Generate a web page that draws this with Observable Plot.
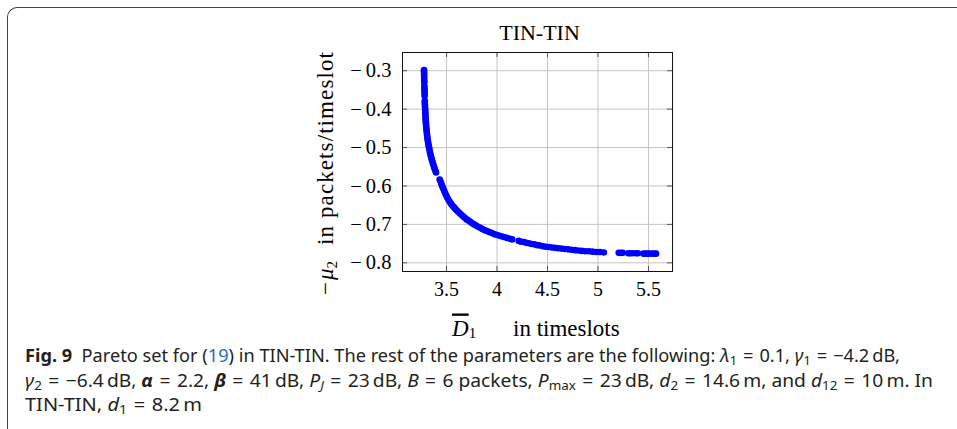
<!DOCTYPE html>
<html><head><meta charset="utf-8">
<script src="https://cdn.jsdelivr.net/npm/d3@7"></script>
<script src="https://cdn.jsdelivr.net/npm/@observablehq/plot@0.6"></script>
<style>
html,body{margin:0;padding:0;background:#fff;width:957px;height:429px;overflow:hidden;}
#box{position:absolute;left:7px;top:7px;width:1000px;height:500px;border-top:1.5px solid #444;border-left:1.5px solid #444;border-top-left-radius:10px;}
#chart{position:absolute;left:0;top:0;}
#caption{position:absolute;left:25px;top:343px;font-family:"Noto Sans",sans-serif;font-size:17.5px;line-height:24.5px;color:#231f20;}
#caption .ln{white-space:nowrap;width:max-content;transform-origin:0 50%;}
#caption sub{font-size:0.7em;vertical-align:-0.25em;line-height:0;}
#caption .ref{color:#2a6ebb;}
</style></head>
<body>
<div id="box"></div>
<div id="chart"></div>
<div id="caption">
<div class="ln"><b>Fig. 9</b>&nbsp; Pareto set for (<span class="ref">19</span>) in TIN-TIN. The rest of the parameters are the following: <i>λ</i><sub>1</sub>&#8196;=&#8196;0.1, <i>γ</i><sub>1</sub>&#8196;=&#8196;−4.2&#8201;dB,</div>
<div class="ln"><i>γ</i><sub>2</sub>&#8196;=&#8196;−6.4&#8201;dB, <b><i>α</i></b>&#8196;=&#8196;2.2, <b><i>β</i></b>&#8196;=&#8196;41&#8201;dB, <i>P</i><sub><i>J</i></sub>&#8196;=&#8196;23&#8201;dB, <i>B</i>&#8196;=&#8196;6 packets, <i>P</i><sub>max</sub>&#8196;=&#8196;23&#8201;dB, <i>d</i><sub>2</sub>&#8196;=&#8196;14.6&#8201;m, and <i>d</i><sub>12</sub>&#8196;=&#8196;10&#8201;m. In</div>
<div class="ln">TIN-TIN, <i>d</i><sub>1</sub>&#8196;=&#8196;8.2&#8201;m</div>
</div>
<script>
// Average delay of user 1 (timeslots)
const delay = [
3.277,3.277,3.278,3.278,3.278,3.279,3.279,3.280,3.281,3.281,3.282,3.282,3.283,3.283,
3.285,3.285,3.286,3.287,3.288,3.289,3.290,3.291,3.292,3.293,3.294,3.295,3.297,3.298,
3.300,3.302,3.304,3.306,3.308,3.310,3.313,3.316,3.319,3.322,3.326,3.330,3.334,3.338,
3.343,3.348,3.353,3.358,3.364,3.370,3.376,3.382,3.389,3.396,
3.432,3.440,3.448,3.457,3.466,3.476,3.486,3.496,3.507,3.519,3.531,3.544,3.557,3.571,
3.585,3.600,3.615,3.631,3.647,3.664,3.681,3.699,3.717,3.735,3.754,3.773,3.793,3.813,
3.834,3.855,3.877,3.899,3.922,3.945,3.969,3.993,4.018,4.043,4.069,4.095,4.122,4.150,
4.215,4.240,4.265,4.290,4.316,4.343,4.370,4.398,4.426,4.455,4.484,4.514,4.544,4.575,
4.606,4.638,4.670,4.703,4.736,4.770,4.804,4.839,4.874,4.910,4.946,4.983,5.020,5.058,
5.205,5.225,5.245,5.300,5.320,5.340,5.375,5.395,5.450,5.470,5.490,5.510,5.535,5.560,5.575
];
// Negative throughput of user 2 (packets/timeslot)
const negMu2 = [
-0.298,-0.302,-0.306,-0.311,-0.316,-0.321,-0.326,-0.331,-0.340,-0.345,-0.350,-0.355,-0.360,-0.366,
-0.378,-0.383,-0.388,-0.394,-0.399,-0.404,-0.409,-0.414,-0.419,-0.424,-0.429,-0.434,-0.439,-0.444,
-0.449,-0.454,-0.459,-0.464,-0.469,-0.474,-0.479,-0.484,-0.489,-0.494,-0.499,-0.504,-0.510,-0.515,
-0.520,-0.525,-0.530,-0.535,-0.540,-0.545,-0.550,-0.555,-0.560,-0.565,
-0.583,-0.588,-0.594,-0.600,-0.606,-0.612,-0.618,-0.624,-0.630,-0.636,-0.641,-0.646,-0.651,-0.655,
-0.659,-0.663,-0.667,-0.671,-0.675,-0.679,-0.683,-0.687,-0.690,-0.693,-0.697,-0.700,-0.703,-0.706,
-0.709,-0.712,-0.715,-0.717,-0.720,-0.722,-0.725,-0.727,-0.729,-0.731,-0.733,-0.735,-0.737,-0.739,
-0.743,-0.745,-0.746,-0.748,-0.749,-0.751,-0.752,-0.754,-0.755,-0.757,-0.758,-0.759,-0.760,-0.761,
-0.762,-0.763,-0.764,-0.765,-0.766,-0.767,-0.768,-0.769,-0.770,-0.770,-0.771,-0.772,-0.772,-0.773,
-0.774,-0.774,-0.774,-0.775,-0.775,-0.775,-0.775,-0.775,-0.776,-0.776,-0.776,-0.776,-0.776,-0.776,-0.776
];
const xTicks = [3.5, 4, 4.5, 5, 5.5];
const yTicks = [-0.3, -0.4, -0.5, -0.6, -0.7, -0.8];
const title = "TIN-TIN";

const points = delay.map((d, i) => ({x: d, y: negMu2[i]}));

const W = 957, H = 345;
const mL = 402, mR = 285, mT = 52, mB = 74;
const fw = W - mL - mR, fh = H - mT - mB;
const tick = 5;

const chart = Plot.plot({
  width: W, height: H,
  marginLeft: mL, marginRight: mR, marginTop: mT, marginBottom: mB,
  style: {fontFamily: "'Liberation Serif', serif", fontSize: "20px", color: "#000", background: "transparent"},
  x: {domain: [3.064, 5.738], label: null},
  y: {domain: [-0.8226, -0.2526], label: null},
  marks: [
    Plot.gridX(xTicks, {stroke: "#c4c4c4", strokeOpacity: 1, strokeWidth: 1}),
    Plot.gridY(yTicks, {stroke: "#c4c4c4", strokeOpacity: 1, strokeWidth: 1}),
    Plot.ruleX(xTicks, {stroke: "#555", insetTop: fh - tick}),
    Plot.ruleX(xTicks, {stroke: "#555", insetBottom: fh - tick}),
    Plot.ruleY(yTicks, {stroke: "#555", insetRight: fw - tick}),
    Plot.ruleY(yTicks, {stroke: "#555", insetLeft: fw - tick}),
    Plot.axisX(xTicks, {tickSize: 0, tickPadding: 10, fontSize: 20, tickFormat: d => String(d), label: null}),
    Plot.axisY(yTicks, {tickSize: 0, tickPadding: 11, fontSize: 20.5, tickFormat: d => "\u2212\u2009" + Math.abs(d).toFixed(1), label: null}),
    Plot.dot(points, {x: "x", y: "y", r: 3.3, fill: "#0000ff", stroke: "none"}),
    Plot.frame({stroke: "#111", strokeWidth: 1}),
    Plot.text([title], {text: d => d, frameAnchor: "top", dy: -19.7, dx: 2, fontSize: 22, lineAnchor: "middle", fill: "#000"})
  ]
});
document.getElementById("chart").appendChild(chart);

// Axis labels with math typesetting
const svg = d3.select(chart);
const lab = svg.append("g")
  .attr("font-family", "'Liberation Serif', serif")
  .attr("fill", "#000")
  .attr("text-anchor", "start");
const xt = lab.append("text").attr("x", 452).attr("y", 335.5).attr("font-size", 23);
xt.append("tspan").attr("font-style", "italic").attr("text-decoration", "overline").text("D");
xt.append("tspan").attr("font-size", 15).attr("dy", 2.5).text("1");
lab.append("text").attr("x", 513).attr("y", 335.5).attr("font-size", 23).text("in timeslots");

const yt = lab.append("text").attr("transform", "translate(333,295) rotate(-90)").attr("font-size", 23);
yt.append("tspan").text("\u2212");
yt.append("tspan").attr("font-style", "italic").attr("dx", 2).text("\u03bc");
yt.append("tspan").attr("font-size", 15).attr("dy", 4).text("2");
yt.append("tspan").attr("dy", -4).attr("dx", 16).attr("letter-spacing", "1.1px").text("in packets/timeslot");

// Fit caption lines to their measured widths
const targets = [875, 908, 177];
document.querySelectorAll("#caption .ln").forEach((el, i) => {
  const w = el.getBoundingClientRect().width;
  el.style.transform = `scaleX(${targets[i] / w})`;
});
</script>
</body></html>
